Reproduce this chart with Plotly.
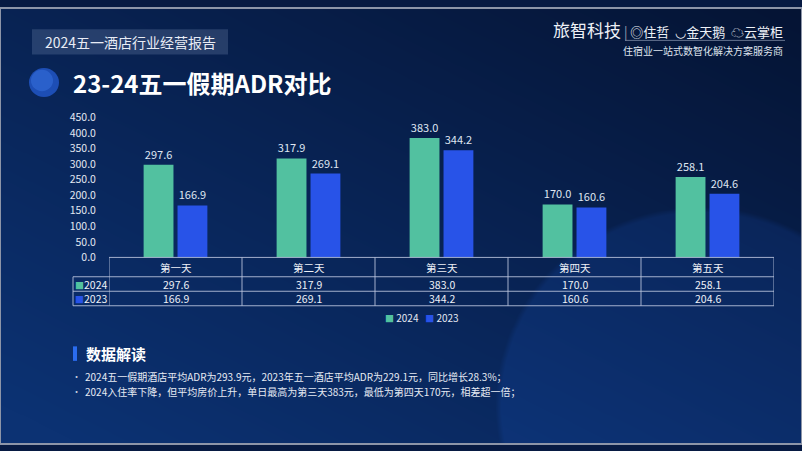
import base64
import struct
import zlib
import numpy as np
import plotly.graph_objects as go

# data
days = ['第一天', '第二天', '第三天', '第四天', '第五天']
adr_2024 = [297.6, 317.9, 383.0, 170.0, 258.1]
adr_2023 = [166.9, 269.1, 344.2, 160.6, 204.6]
y_ticks = [0, 50, 100, 150, 200, 250, 300, 350, 400, 450]
notes = [
    '2024五一假期酒店平均ADR为293.9元，2023年五一酒店平均ADR为229.1元，同比增长28.3%；',
    '2024入住率下降，但平均房价上升，单日最高为第三天383元，最低为第四天170元，相差超一倍；',
]

W, H = 802, 451
FONT = 'Noto Sans CJK SC'
GREEN = '#52c1a0'
BLUE = '#2853e8'
LINE = 'rgba(190,200,225,0.85)'


def yp(py):
    return 1 - py / H


def xp(px):
    return px / W


# background gradient as a png
def make_bg():
    xs = np.linspace(0, 1, W)[None, :]
    ys = np.linspace(0, 1, H)[:, None]
    t = np.clip(0.5 * (1 - xs) + 0.55 * ys, 0, 1)
    dark = np.array([5, 20, 52], float)
    light = np.array([12, 50, 115], float)
    img = dark + t[..., None] * (light - dark)
    X, Y = np.meshgrid(np.arange(W), np.arange(H))
    d = np.sqrt((X - 700) ** 2 + (Y - 410) ** 2)
    glow = np.clip((205 - d) / 6, 0, 1)
    img = img + glow[..., None] * np.array([3, 9, 20])
    img = np.clip(img, 0, 255).astype(np.uint8)
    raw = b''.join(b'\x00' + row.tobytes() for row in img)

    def chunk(tag, data):
        c = struct.pack('>I', len(data)) + tag + data
        return c + struct.pack('>I', zlib.crc32(tag + data) & 0xffffffff)

    png = b'\x89PNG\r\n\x1a\n'
    png += chunk(b'IHDR', struct.pack('>IIBBBBB', W, H, 8, 2, 0, 0, 0))
    png += chunk(b'IDAT', zlib.compress(raw, 9))
    png += chunk(b'IEND', b'')
    return 'data:image/png;base64,' + base64.b64encode(png).decode()


def label(text, x, y, size, color='#eef1f7', xanchor='center', xref='paper'):
    return dict(text=text, xref=xref, yref='paper', x=x, y=y, xanchor=xanchor,
                yanchor='middle', showarrow=False, font=dict(size=size, color=color))


fig = go.Figure()
fig.add_trace(go.Bar(x=days, y=adr_2024, name='2024', marker_color=GREEN, marker_line_width=0,
                     text=[f'{v:.1f}' for v in adr_2024], textposition='outside',
                     textfont=dict(size=11, color='#dfe6f2'), cliponaxis=False))
fig.add_trace(go.Bar(x=days, y=adr_2023, name='2023', marker_color=BLUE, marker_line_width=0,
                     text=[f'{v:.1f}' for v in adr_2023], textposition='outside',
                     textfont=dict(size=11, color='#dfe6f2'), cliponaxis=False))

x0, x1 = xp(109), xp(774)
fig.update_layout(
    width=W, height=H,
    margin=dict(l=0, r=0, t=0, b=0),
    paper_bgcolor='#071a42', plot_bgcolor='rgba(0,0,0,0)',
    font=dict(family=FONT, color='white'),
    barmode='group', bargap=0.49, bargroupgap=0.12,
    showlegend=False,
    xaxis=dict(domain=[x0, x1], range=[-0.5, 4.5], showticklabels=False,
               showgrid=False, zeroline=False, showline=False),
    yaxis=dict(domain=[yp(258), yp(113)], range=[0, 450], tickvals=y_ticks,
               tickformat='.1f', showgrid=False, zeroline=False, showline=False,
               ticks='outside', ticklen=10, tickcolor='rgba(0,0,0,0)',
               tickfont=dict(size=10.5, color='#e3e8f2')),
    images=[dict(source=make_bg(), xref='paper', yref='paper', x=0, y=1,
                 sizex=1, sizey=1, sizing='stretch', layer='below')],
)

shapes = []
ann = []

# frame
shapes.append(dict(type='rect', xref='paper', yref='paper', x0=0, x1=1, y0=0, y1=1,
                   line=dict(color='#8d95a8', width=2)))

# header tag
shapes.append(dict(type='rect', xref='paper', yref='paper', x0=xp(32), x1=xp(228),
                   y0=yp(48), y1=yp(22), fillcolor='rgba(120,140,180,0.28)',
                   line=dict(width=0)))
ann.append(label('2024五一酒店行业经营报告', xp(130), yp(35), 14, '#e8ecf5'))

# title with sphere
shapes.append(dict(type='circle', xref='paper', yref='paper', x0=xp(29), x1=xp(59),
                   y0=yp(92), y1=yp(62), fillcolor='#1d4eb5', line=dict(width=0)))
shapes.append(dict(type='circle', xref='paper', yref='paper', x0=xp(31), x1=xp(53),
                   y0=yp(86), y1=yp(64), fillcolor='rgba(60,120,230,0.45)', line=dict(width=0)))
ann.append(label('<b>23-24五一假期ADR对比</b>', xp(71), yp(77), 24, 'white', 'left'))

# logo block
ann.append(label('<span style="font-size:17px">旅智科技</span> '
                 '<span style="color:#9aa3b8">|</span> ◎住哲  ◡金天鹅  ☁云掌柜',
                 xp(785), yp(22), 13, '#eef1f7', 'right'))
shapes.append(dict(type='line', xref='paper', yref='paper', x0=xp(625), x1=xp(785),
                   y0=yp(33.5), y1=yp(33.5), line=dict(color='rgba(200,210,230,0.5)', width=1)))
ann.append(label('住宿业一站式数智化解决方案服务商', xp(785), yp(44), 10, '#dfe4ee', 'right'))

# data table
top, r1, r2, bot = 258, 278, 293, 308
for py in (top, r1, r2, bot):
    left = xp(109) if py == top else xp(73)
    shapes.append(dict(type='line', xref='paper', yref='paper', x0=left, x1=x1,
                       y0=yp(py), y1=yp(py), line=dict(color=LINE, width=1)))
for k in range(len(days) + 1):
    shapes.append(dict(type='line', xref='x', yref='paper', x0=k - 0.5, x1=k - 0.5,
                       y0=yp(bot), y1=yp(top), line=dict(color=LINE, width=1)))
shapes.append(dict(type='line', xref='paper', yref='paper', x0=xp(73), x1=xp(73),
                   y0=yp(bot), y1=yp(r1), line=dict(color=LINE, width=1)))

for i, d in enumerate(days):
    ann.append(label(d, i, yp((top + r1) / 2), 10.5, xref='x'))
    ann.append(label(f'{adr_2024[i]:.1f}', i, yp((r1 + r2) / 2), 10.5, xref='x'))
    ann.append(label(f'{adr_2023[i]:.1f}', i, yp((r2 + bot) / 2), 10.5, xref='x'))
for name, color, a, b in (('2024', GREEN, r1, r2), ('2023', BLUE, r2, bot)):
    ann.append(label(f'<span style="color:{color};font-size:9px">■</span>{name}',
                     xp(91), yp((a + b) / 2), 10.5))

# legend below the table
ann.append(label(f'<span style="color:{GREEN};font-size:9px">■</span> 2024   '
                 f'<span style="color:{BLUE};font-size:9px">■</span> 2023',
                 xp(422), yp(320), 10, '#e3e8f2'))

# notes section
shapes.append(dict(type='rect', xref='paper', yref='paper', x0=xp(73), x1=xp(77),
                   y0=yp(365), y1=yp(350), fillcolor='#2a6cf0', line=dict(width=0)))
ann.append(label('<b>数据解读</b>', xp(84), yp(357), 15, 'white', 'left'))
for j, line in enumerate(notes):
    ann.append(label('•', xp(76), yp(381 + 16 * j), 9, '#c8d0e0'))
    ann.append(label(line, xp(83), yp(381 + 16 * j), 10, '#e6eaf3', 'left'))

fig.update_layout(shapes=shapes, annotations=ann)
fig.write_html('out.html', config={'displayModeBar': False},
               post_script="document.body.style.margin='0';")
